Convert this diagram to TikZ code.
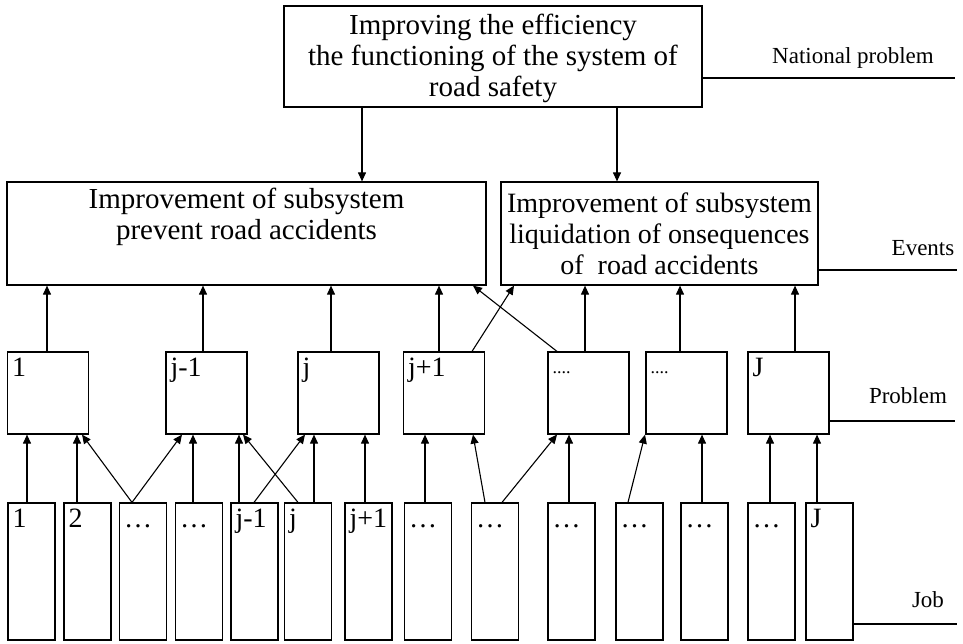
\documentclass[tikz,border=0pt]{standalone}
\usepackage{fontspec}
\setmainfont{Liberation Serif}
\usetikzlibrary{arrows.meta}

\begin{document}
\begin{tikzpicture}[x=1pt,y=-1pt,
  box/.style={draw,line width=1.2pt,inner sep=0pt},
  bigtxt/.style={font=\fontsize{29}{31}\selectfont,align=center},
  num/.style={anchor=north west,inner sep=0pt,xshift=5pt,yshift=-5pt,font=\fontsize{28}{30}\selectfont,text height=20pt},
  dots/.style={num,yshift=3pt,font=\fontsize{18}{20}\selectfont},
  prob/.style={box,minimum width=81pt,minimum height=82pt},
  job/.style={box,minimum width=47pt,minimum height=137pt},
  lvl/.style={anchor=base,font=\fontsize{23}{25}\selectfont},
  rule/.style={line width=1.1pt},
  arr/.style={line width=1.1pt,-{Triangle[length=9pt,width=8pt]}}]
\useasboundingbox (0,0) rectangle (963,643);

\node[box,minimum width=418pt,minimum height=101pt,bigtxt,text depth=2pt] (top) at (493,56.5) {Improving the efficiency\\the functioning of the system of\\road safety};
\node[box,minimum width=479pt,minimum height=103pt,label={[bigtxt,anchor=north,inner sep=2pt,yshift=-4pt]north:{Improvement of subsystem\\prevent road accidents}}] (evA) at (246.5,233.5) {};
\node[box,minimum width=317pt,minimum height=103pt,font=\fontsize{28}{31}\selectfont,align=center] (evB) at (659.5,233.5) {Improvement of subsystem\\liquidation of onsequences\\of~ road accidents};

\node[prob,label={[num]north west:1}] (p1) at (48,393) {};
\node[prob,label={[num]north west:j-1}] (p2) at (206.5,393) {};
\node[prob,label={[num]north west:j}] (p3) at (338.5,393) {};
\node[prob,label={[num]north west:j+1}] (p4) at (444,393) {};
\node[prob,label={[dots]north west:....}] (p5) at (588.5,393) {};
\node[prob,label={[dots]north west:....}] (p6) at (686.5,393) {};
\node[prob,label={[num]north west:J}] (p7) at (788.5,393) {};

\node[job,label={[num]north west:1}] (w1) at (31.5,571.5) {};
\node[job,label={[num]north west:2}] (w2) at (87.5,571.5) {};
\node[job,label={[num]north west:…}] (w3) at (143,571.5) {};
\node[job,label={[num]north west:…}] (w4) at (199,571.5) {};
\node[job,label={[num]north west:j-1}] (w5) at (254.5,571.5) {};
\node[job,label={[num]north west:j}] (w6) at (308,571.5) {};
\node[job,label={[num]north west:j+1}] (w7) at (368.5,571.5) {};
\node[job,label={[num]north west:…}] (w8) at (428,571.5) {};
\node[job,label={[num]north west:…}] (w9) at (495,571.5) {};
\node[job,label={[num]north west:…}] (w10) at (571.5,571.5) {};
\node[job,label={[num]north west:…}] (w11) at (639.5,571.5) {};
\node[job,label={[num]north west:…}] (w12) at (704.5,571.5) {};
\node[job,label={[num]north west:…}] (w13) at (771.5,571.5) {};
\node[job,label={[num]north west:J}] (w14) at (829.5,571.5) {};

\draw[arr] (top.south -| 362,0) -- (evA.north -| 362,0);
\draw[arr] (top.south -| 617,0) -- (evB.north -| 617,0);

\draw[arr] (p1.north -| 47,0) -- (evA.south -| 47,0);
\draw[arr] (p2.north -| 203,0) -- (evA.south -| 203,0);
\draw[arr] (p3.north -| 331,0) -- (evA.south -| 331,0);
\draw[arr] (p4.north -| 439,0) -- (evA.south -| 439,0);
\draw[arr] (p4.north -| 472,0) -- (evB.south -| 514,0);
\draw[arr] (p5.north -| 557,0) -- (evA.south -| 473,0);
\draw[arr] (p5.north -| 585,0) -- (evB.south -| 585,0);
\draw[arr] (p6.north -| 680,0) -- (evB.south -| 680,0);
\draw[arr] (p7.north -| 795,0) -- (evB.south -| 795,0);

\draw[arr] (w1.north -| 27,0) -- (p1.south -| 27,0);
\draw[arr] (w2.north -| 77,0) -- (p1.south -| 77,0);
\draw[arr] (w3.north -| 132,0) -- (p1.south -| 82,0);
\draw[arr] (w3.north -| 132,0) -- (p2.south -| 182,0);
\draw[arr] (w4.north -| 193,0) -- (p2.south -| 193,0);
\draw[arr] (w5.north -| 239,0) -- (p2.south -| 239,0);
\draw[arr] (w5.north -| 254,0) -- (p3.south -| 305,0);
\draw[arr] (w6.north -| 298,0) -- (p2.south -| 243,0);
\draw[arr] (w6.north -| 314,0) -- (p3.south -| 314,0);
\draw[arr] (w7.north -| 365,0) -- (p3.south -| 365,0);
\draw[arr] (w8.north -| 425,0) -- (p4.south -| 425,0);
\draw[arr] (w9.north -| 485,0) -- (p4.south -| 473,0);
\draw[arr] (w9.north -| 502,0) -- (p5.south -| 557,0);
\draw[arr] (w10.north -| 569,0) -- (p5.south -| 569,0);
\draw[arr] (w11.north -| 628,0) -- (p6.south -| 645,0);
\draw[arr] (w12.north -| 702,0) -- (p6.south -| 702,0);
\draw[arr] (w13.north -| 770,0) -- (p7.south -| 770,0);
\draw[arr] (w14.north -| 817,0) -- (p7.south -| 817,0);

\coordinate (natEnd) at (955,78);
\coordinate (evEnd) at (957,270);
\coordinate (probEnd) at (955,421);
\coordinate (jobEnd) at (957,624);
\draw[rule] (top.east |- natEnd) -- (natEnd);
\draw[rule] (evB.east |- evEnd) -- (evEnd);
\draw[rule] (p7.east |- probEnd) -- (probEnd);
\draw[rule] (w14.east |- jobEnd) -- (jobEnd);
\node[lvl] (natLbl) at (853,63) {National problem};
\node[lvl] (evLbl) at (923,255) {Events};
\node[lvl] (probLbl) at (908,403) {Problem};
\node[lvl] (jobLbl) at (928,607) {Job};
\end{tikzpicture}
\end{document}
